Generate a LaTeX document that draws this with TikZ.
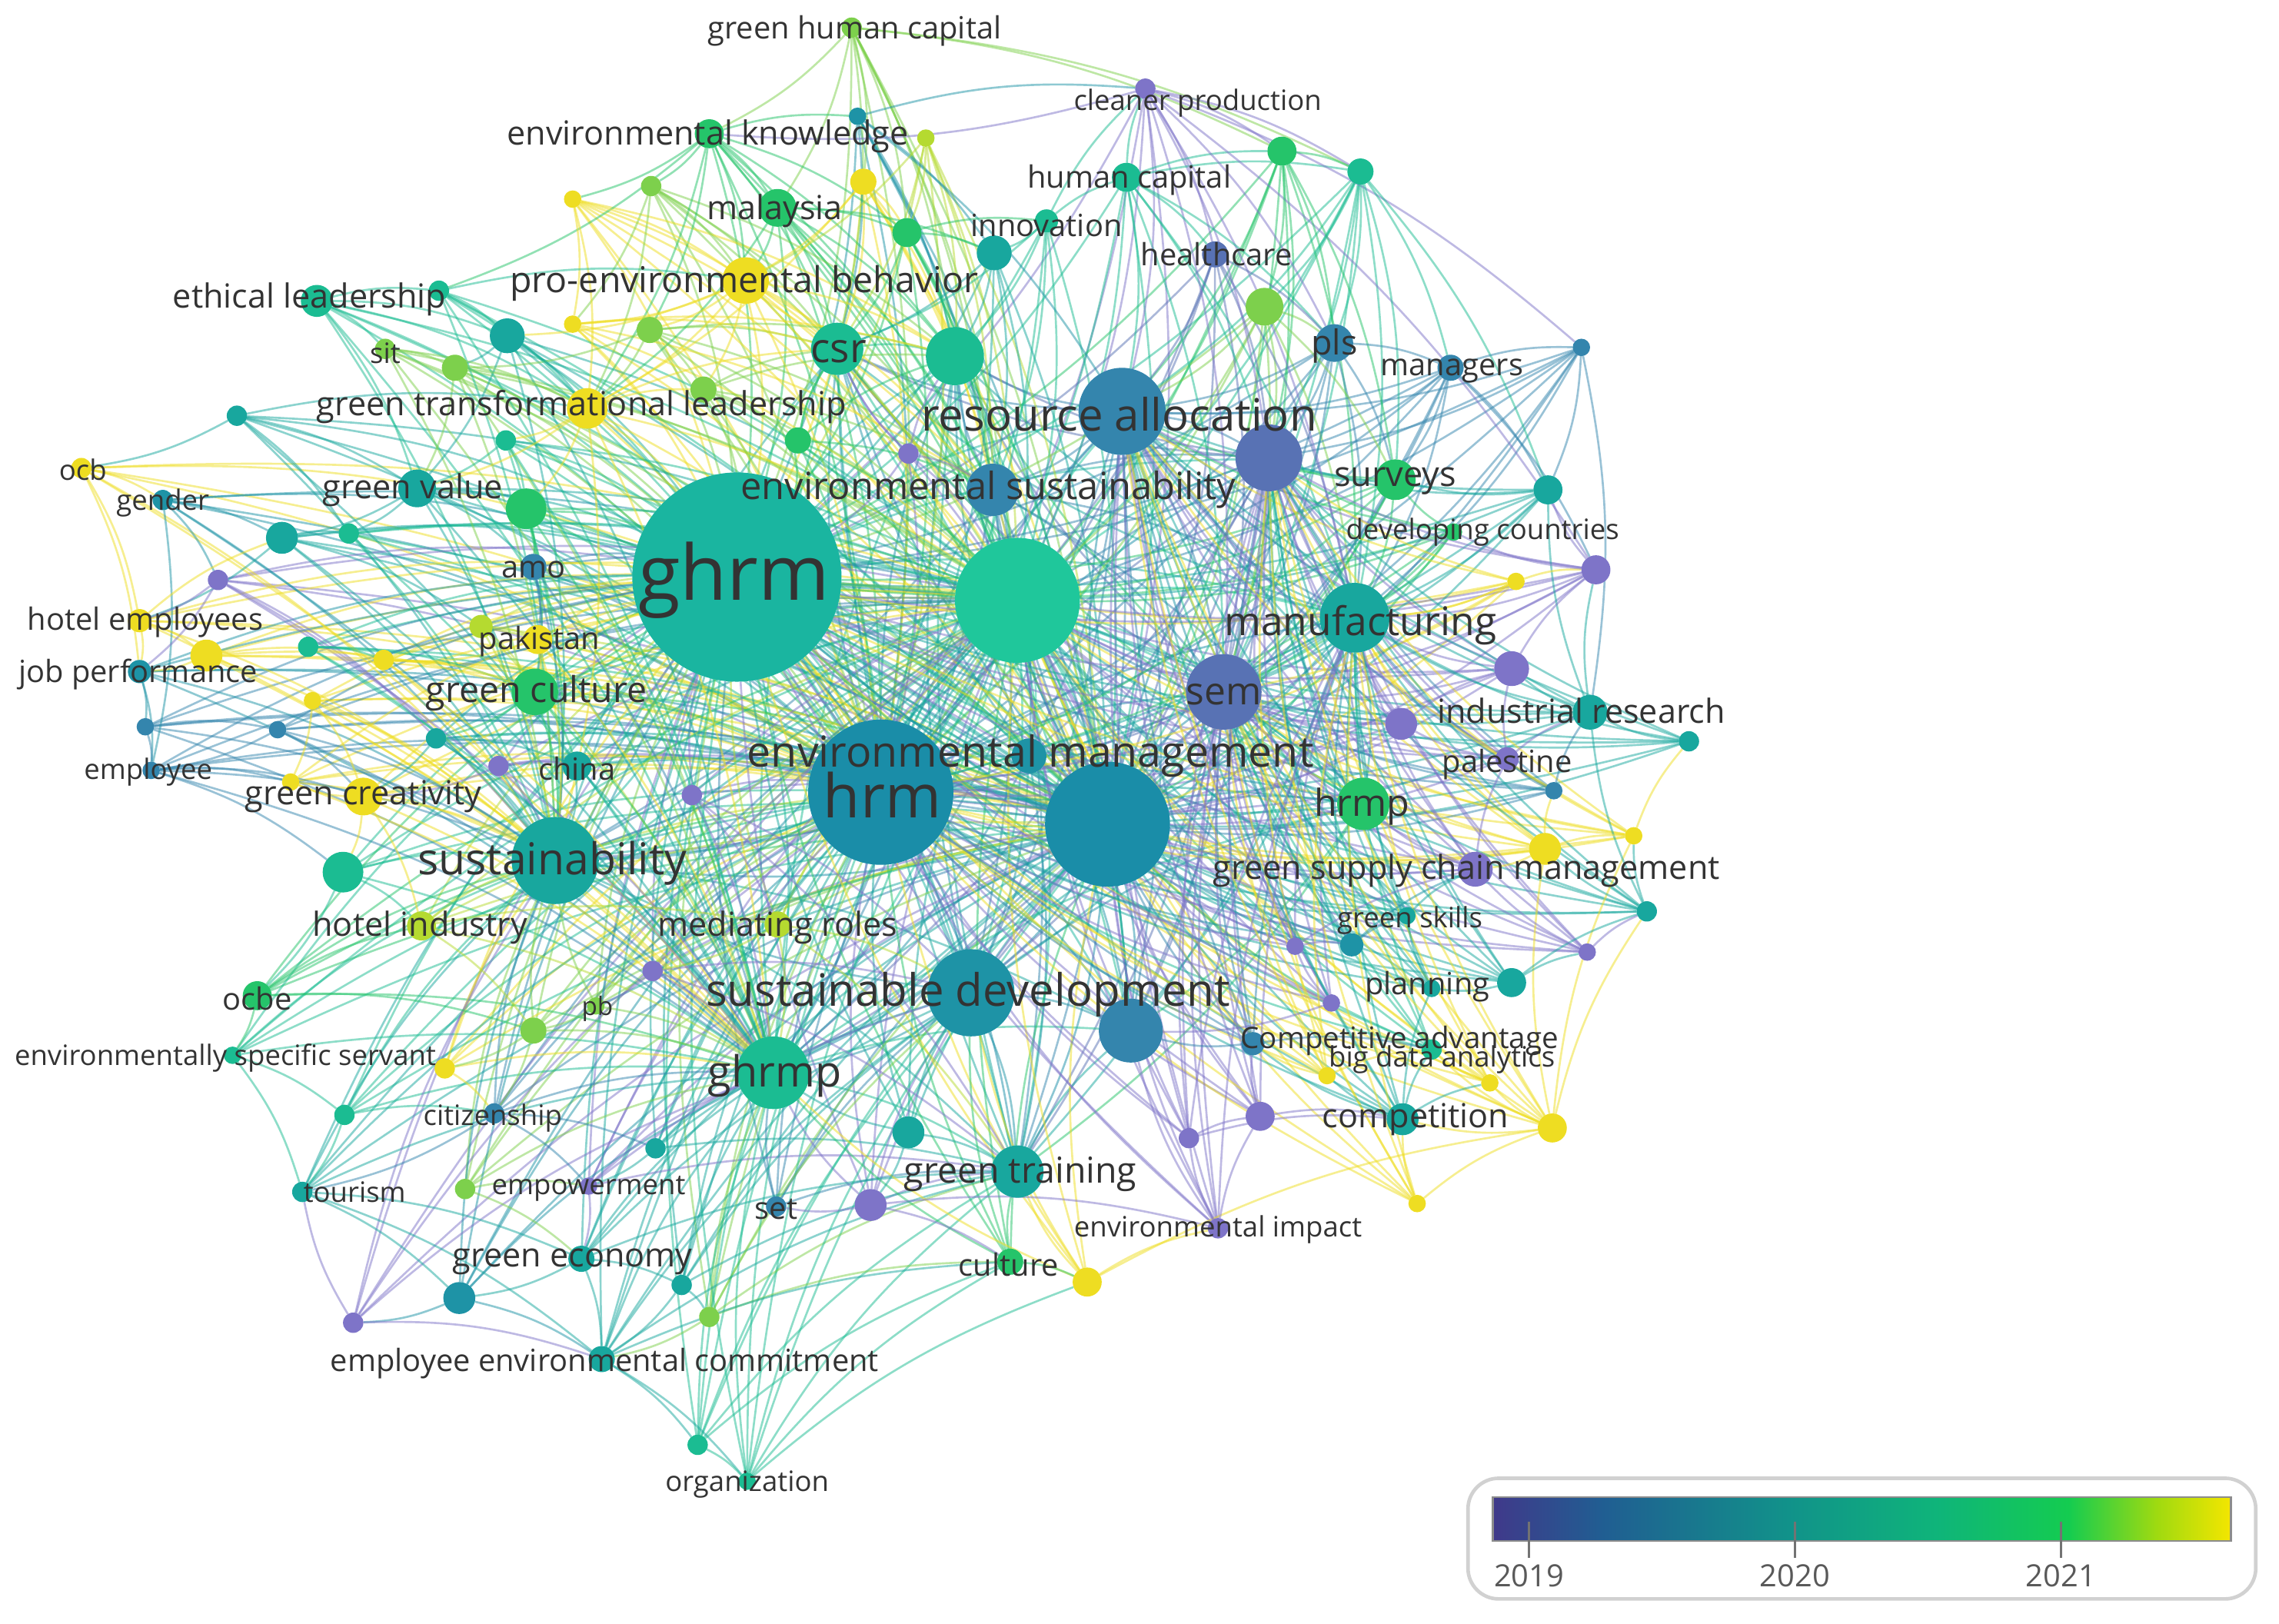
\documentclass[tikz,border=0pt]{standalone}
\usepackage{fontspec}
\setmainfont{Open Sans}
\usetikzlibrary{calc}
\pgfdeclarelayer{bg}
\pgfsetlayers{bg,main}
\definecolor{cP}{HTML}{7E74C8}
\definecolor{cPB}{HTML}{5872B4}
\definecolor{cB}{HTML}{3485AD}
\definecolor{cBT}{HTML}{1E93A6}
\definecolor{cT}{HTML}{18A79E}
\definecolor{cTG}{HTML}{1BBC92}
\definecolor{cG}{HTML}{25C46A}
\definecolor{cLG}{HTML}{7DD04C}
\definecolor{cYG}{HTML}{B5DA30}
\definecolor{cY}{HTML}{EEDD22}
\definecolor{cGH}{HTML}{1AB5A0}
\definecolor{cBA}{HTML}{1FC79B}
\definecolor{cHR}{HTML}{1A8DA8}
\definecolor{vA}{HTML}{40398A}
\definecolor{vB}{HTML}{205E92}
\definecolor{vC}{HTML}{11928A}
\definecolor{vD}{HTML}{0FB47A}
\definecolor{vE}{HTML}{14CC50}
\definecolor{vF}{HTML}{A0DA10}
\definecolor{vG}{HTML}{F4E600}
\pgfdeclarehorizontalshading{viridis}{100bp}{color(0bp)=(vA); color(25bp)=(vA); color(32.5bp)=(vB); color(45bp)=(vC); color(55bp)=(vD); color(64bp)=(vE); color(70bp)=(vF); color(75bp)=(vG); color(100bp)=(vG)}
\tikzset{
  kwc/.style={circle,inner sep=0pt,outer sep=0pt,draw=none},
  lbl/.style={inner sep=0pt,text=black!80,yshift=-0.04cm},
  lnk/.style={line width=0.8pt,draw opacity=0.5}
}
\newcommand\kw[5]{\colorlet{c-#1}{#5}\node[kwc,fill=#5,minimum size=#4*0.04cm] (#1) at (#2,#3) {};}
\newcommand\lb[5]{\node[lbl,font=\fontsize{#4}{#4}\selectfont] (l-#1) at (#2,#3) {#5};}
\begin{document}
\begin{tikzpicture}[x={(0.02cm,0)},y={(0,-0.02cm)}]
\useasboundingbox (0,0) rectangle (1568,1117);
% ---------- hub nodes
\kw{ghrm}{507}{397}{72}{cGH}
\kw{bigA}{700}{413}{43}{cBA}
\kw{hrm}{606}{545}{50}{cHR}
\kw{bigB}{762}{567}{43}{cHR}
\kw{ra}{772}{283}{30}{cB}
\kw{es}{683}{337}{18}{cB}
\kw{bp}{873}{315}{23}{cPB}
\kw{mf}{932}{425}{24}{cT}
\kw{sem}{842}{476}{26}{cPB}
\kw{em}{708}{520}{12}{cBT}
\kw{sd}{668}{683}{30}{cBT}
\kw{sus}{382}{592}{30}{cT}
\kw{ghrmp}{532}{738}{25}{cTG}
\kw{hrmp}{938}{553}{18}{cG}
\kw{gt}{700}{806}{18}{cT}
\kw{csr}{576}{240}{18}{cTG}
\kw{gB}{657}{245}{20}{cTG}
\kw{bn}{778}{709}{22}{cB}
% ---------- other nodes
\kw{ghc}{586}{19}{7}{cLG}
\kw{cp}{788}{61}{7}{cP}
\kw{t1}{590}{80}{6}{cBT}
\kw{ek}{488}{92}{10}{cG}
\kw{t2}{637}{95}{6}{cYG}
\kw{t3}{594}{125}{9}{cY}
\kw{t4}{448}{128}{7}{cLG}
\kw{my}{535}{143}{13}{cG}
\kw{t5}{394}{137}{6}{cY}
\kw{t6}{624}{160}{10}{cG}
\kw{inn}{720}{152}{8}{cTG}
\kw{t7}{684}{174}{12}{cT}
\kw{hc}{775}{122}{10}{cTG}
\kw{t8}{882}{104}{10}{cG}
\kw{t9}{936}{118}{9}{cTG}
\kw{hcare}{836}{175}{9}{cPB}
\kw{t10}{870}{211}{13}{cLG}
\kw{pls}{918}{236}{13}{cB}
\kw{mgr}{998}{253}{9}{cB}
\kw{t11}{1088}{239}{6}{cB}
\kw{peb}{513}{193}{16}{cY}
\kw{t12}{447}{227}{9}{cLG}
\kw{t13}{394}{223}{6}{cY}
\kw{el}{218}{207}{11}{cTG}
\kw{t14}{302}{200}{7}{cTG}
\kw{t15}{349}{231}{12}{cT}
\kw{sit}{265}{240}{7}{cLG}
\kw{t16}{313}{253}{9}{cLG}
\kw{gtl}{404}{281}{14}{cY}
\kw{t17}{484}{268}{9}{cLG}
\kw{t18}{549}{303}{9}{cG}
\kw{t19}{625}{312}{7}{cP}
\kw{t20}{348}{303}{7}{cTG}
\kw{t21}{163}{286}{7}{cT}
\kw{ocb}{56}{322}{7}{cY}
\kw{gen}{112}{344}{7}{cBT}
\kw{gv}{287}{336}{13}{cT}
\kw{t22}{362}{350}{14}{cG}
\kw{t23}{194}{370}{11}{cT}
\kw{t24}{240}{367}{7}{cTG}
\kw{t25}{150}{399}{7}{cP}
\kw{amo}{367}{390}{9}{cB}
\kw{t26}{331}{431}{8}{cYG}
\kw{pak}{370}{440}{10}{cY}
\kw{he}{96}{427}{8}{cY}
\kw{t27}{142}{451}{11}{cY}
\kw{jp}{96}{462}{8}{cBT}
\kw{t28}{212}{445}{7}{cTG}
\kw{t29}{264}{454}{7}{cY}
\kw{gc}{368}{476}{16}{cG}
\kw{t30}{215}{482}{6}{cY}
\kw{t31}{100}{500}{6}{cB}
\kw{t32}{191}{502}{6}{cB}
\kw{t33}{300}{508}{7}{cT}
\kw{emp}{104}{530}{6}{cB}
\kw{t34}{343}{527}{7}{cP}
\kw{china}{397}{527}{10}{cT}
\kw{gcr}{250}{548}{13}{cY}
\kw{t35}{200}{538}{6}{cY}
\kw{t36}{236}{600}{14}{cTG}
\kw{hi}{290}{637}{10}{cYG}
\kw{t37}{476}{547}{7}{cP}
\kw{mr}{535}{636}{9}{cYG}
\kw{t38}{449}{668}{7}{cP}
\kw{ocbe}{177}{685}{10}{cG}
\kw{pb}{410}{692}{6}{cLG}
\kw{t39}{367}{709}{9}{cLG}
\kw{ess}{160}{726}{6}{cTG}
\kw{t40}{306}{735}{7}{cY}
\kw{t41}{237}{767}{7}{cTG}
\kw{cit}{340}{766}{7}{cB}
\kw{t42}{451}{790}{7}{cT}
\kw{t43}{625}{779}{11}{cT}
\kw{t44}{599}{829}{11}{cP}
\kw{set}{534}{830}{7}{cB}
\kw{t45}{320}{818}{7}{cLG}
\kw{tour}{208}{820}{7}{cT}
\kw{empw}{405}{816}{6}{cP}
\kw{ge}{400}{866}{9}{cT}
\kw{t46}{316}{893}{11}{cBT}
\kw{t47}{469}{884}{7}{cT}
\kw{t48}{488}{906}{7}{cLG}
\kw{t49}{243}{910}{7}{cP}
\kw{eec}{414}{935}{9}{cT}
\kw{t50}{480}{994}{7}{cTG}
\kw{org}{514}{1019}{6}{cTG}
\kw{cul}{695}{868}{9}{cG}
\kw{t51}{748}{882}{10}{cY}
\kw{ei}{838}{845}{7}{cP}
\kw{t52}{818}{783}{7}{cP}
\kw{t53}{867}{768}{10}{cP}
\kw{t54}{975}{828}{6}{cY}
\kw{t55}{1068}{776}{10}{cY}
\kw{comp}{965}{770}{11}{cT}
\kw{t56}{913}{740}{6}{cY}
\kw{t57}{1025}{745}{6}{cY}
\kw{ca}{862}{718}{8}{cB}
\kw{bda}{985}{722}{7}{cTG}
\kw{t58}{1040}{676}{10}{cT}
\kw{plan}{985}{680}{6}{cT}
\kw{t59}{916}{690}{6}{cP}
\kw{t60}{891}{651}{6}{cP}
\kw{t61}{930}{650}{8}{cBT}
\kw{gs}{968}{630}{6}{cT}
\kw{t62}{1092}{655}{6}{cP}
\kw{t63}{1133}{627}{7}{cT}
\kw{t64}{1063}{584}{11}{cY}
\kw{t65}{1124}{575}{6}{cY}
\kw{gscm}{1015}{598}{12}{cP}
\kw{t66}{1069}{544}{6}{cB}
\kw{pal}{1037}{522}{8}{cP}
\kw{t67}{1162}{510}{7}{cT}
\kw{ir}{1094}{490}{12}{cT}
\kw{t68}{964}{498}{11}{cP}
\kw{t69}{1040}{460}{12}{cP}
\kw{t70}{1043}{400}{6}{cY}
\kw{t71}{1098}{392}{10}{cP}
\kw{dc}{1000}{366}{6}{cG}
\kw{t72}{1065}{337}{10}{cT}
\kw{sv}{960}{330}{14}{cG}
% ---------- labels
\lb{ghc}{588}{19}{12pt}{green human capital}
\lb{cp}{824}{69}{11pt}{cleaner production}
\lb{ek}{487}{92}{13pt}{environmental knowledge}
\lb{my}{533}{143}{13pt}{malaysia}
\lb{inn}{720}{153}{12pt}{innovation}
\lb{hc}{777}{122}{12pt}{human capital}
\lb{hcare}{837}{173}{12pt}{healthcare}
\lb{pls}{918}{236}{13.5pt}{pls}
\lb{mgr}{999}{253}{12pt}{managers}
\lb{peb}{512}{193}{14pt}{pro-environmental behavior}
\lb{el}{213}{204}{13pt}{ethical leadership}
\lb{sit}{265}{241}{11pt}{sit}
\lb{csr}{577}{240}{16pt}{csr}
\lb{gtl}{400}{278}{13pt}{green transformational leadership}
\lb{ra}{770}{283}{17.5pt}{resource allocation}
\lb{es}{680}{335}{14.7pt}{environmental sustainability}
\lb{sv}{960}{329}{13.6pt}{surveys}
\lb{dc}{1020}{364}{11pt}{developing countries}
\lb{ocb}{57}{321}{11pt}{ocb}
\lb{gen}{112}{344}{11pt}{gender}
\lb{gv}{284}{335}{13pt}{green value}
\lb{amo}{367}{390}{12pt}{amo}
\lb{ghrm}{505}{397}{30pt}{ghrm}
\lb{he}{100}{426}{12pt}{hotel employees}
\lb{pak}{371}{439}{12pt}{pakistan}
\lb{jp}{95}{462}{12pt}{job performance}
\lb{mf}{936}{428}{15.5pt}{manufacturing}
\lb{gc}{369}{475}{14pt}{green culture}
\lb{sem}{842}{476}{15pt}{sem}
\lb{ir}{1088}{487}{13pt}{industrial research}
\lb{emp}{102}{529}{11pt}{employee}
\lb{china}{397}{527}{12pt}{china}
\lb{em}{709}{518}{16.7pt}{environmental management}
\lb{pal}{1037}{524}{12pt}{palestine}
\lb{gcr}{250}{546}{13pt}{green creativity}
\lb{hrm}{607}{545}{23.6pt}{hrm}
\lb{hrmp}{937}{553}{14.6pt}{hrmp}
\lb{sus}{380}{592}{17.2pt}{sustainability}
\lb{gscm}{1009}{597}{13pt}{green supply chain management}
\lb{hi}{289}{636}{13pt}{hotel industry}
\lb{mr}{535}{636}{13pt}{mediating roles}
\lb{gs}{970}{631}{11pt}{green skills}
\lb{sd}{666}{682}{17.5pt}{sustainable development}
\lb{plan}{982}{677}{12pt}{planning}
\lb{ocbe}{177}{685}{12pt}{ocbe}
\lb{pb}{411}{692}{10pt}{pb}
\lb{ess}{155}{726}{11pt}{environmentally specific servant}
\lb{ca}{963}{714}{11.6pt}{Competitive advantage}
\lb{bda}{992}{727}{11pt}{big data analytics}
\lb{ghrmp}{533}{738}{16.8pt}{ghrmp}
\lb{cit}{339}{767}{11pt}{citizenship}
\lb{comp}{974}{768}{13pt}{competition}
\lb{gt}{702}{806}{14pt}{green training}
\lb{tour}{244}{818}{11pt}{tourism}
\lb{empw}{405}{816}{11pt}{empowerment}
\lb{set}{534}{830}{12pt}{set}
\lb{ei}{838}{844}{11pt}{environmental impact}
\lb{ge}{394}{866}{13pt}{green economy}
\lb{cul}{694}{868}{12pt}{culture}
\lb{eec}{416}{936}{12pt}{employee environmental commitment}
\lb{org}{514}{1019}{11pt}{organization}
% ---------- links
\begin{pgfonlayer}{bg}
\foreach \a [count=\i] in {ghrm,hrm,bigA,bigB,ra,es,bp,mf,sem,em,sd,sus,ghrmp,hrmp,gt,csr,gB,bn}{
  \foreach \b [count=\j] in {ghrm,hrm,bigA,bigB,ra,es,bp,mf,sem,em,sd,sus,ghrmp,hrmp,gt,csr,gB,bn}{
    \ifnum\j>\i \draw[lnk,draw=c-\a] (\a) to[bend left=10] (\b);\fi
  }
}
\foreach \a in {ghc,cp,t1,ek,t2,t3,t4,my,t5,t6,inn,t7,hc,t8,t9,hcare,t10,pls,mgr,t11,peb,t12,t13,el,t14,t15,sit,t16,gtl,t17,t18,t19,t20,t21,ocb,gen,gv,t22,t23,t24,t25,amo,t26,pak,he,t27,jp,t28,t29,gc,t30,t31,t32,t33,emp,t34,china,gcr,t35,t36,hi,t37,mr,t38,ocbe,pb,t39,ess,t40,t41,cit,t42,t43,t44,set,t45,tour,empw,ge,t46,t47,t48,t49,eec,t50,org,cul,t51,ei,t52,t53,t54,t55,comp,t56,t57,ca,bda,t58,plan,t59,t60,t61,gs,t62,t63,t64,t65,gscm,t66,pal,t67,ir,t68,t69,t70,t71,dc,t72,sv}{
  \foreach \b in {ghrm,hrm,bigA,bigB}{\draw[lnk,draw=c-\a] (\a) to[bend left=10] (\b);}
}
\foreach \a in {t8,t9,t10,pls,mgr,t11,hcare,hc,sv,dc,t72,t71,t70,t69,ir,t67,pal,t66,t68,t65,t64,gscm,t63,t62,gs,t61,t60,t59,plan,t58,bda,ca,t57,t56,comp,t55,t54,t53,t52,ei,cp}{
  \foreach \b in {ra,sem,mf,bp}{\draw[lnk,draw=c-\a] (\a) to[bend left=10] (\b);}
}
\foreach \a in {el,t14,t15,sit,t16,gtl,t20,t21,ocb,gen,gv,t22,t23,t24,t25,amo,t26,pak,he,t27,jp,t28,t29,gc,t30,t31,t32,t33,emp,t34,china,gcr,t35,t36,hi,ocbe,pb,t39,ess,t40,t41,cit,tour,t45,t46,t49}{
  \foreach \b in {sus,ghrmp}{\draw[lnk,draw=c-\a] (\a) to[bend left=10] (\b);}
}
\foreach \a in {ghc,t1,ek,t2,t3,t4,my,t5,t6,inn,t7,peb,t12,t13,t17,t18,t19}{
  \foreach \b in {csr,gB,es}{\draw[lnk,draw=c-\a] (\a) to[bend left=10] (\b);}
}
\foreach \a in {t42,t43,t44,set,empw,ge,t47,t48,eec,t50,org,cul,t51,t37,mr,t38}{
  \foreach \b in {sd,ghrmp,gt}{\draw[lnk,draw=c-\a] (\a) to[bend left=10] (\b);}
}
\foreach \a/\b in {ghc/ek,ghc/t3,ghc/t6,ghc/my,ghc/t8,ghc/t9,ek/t4,ek/my,ek/t12,ek/peb,ek/t5,ek/gtl,ek/t14,ek/t6,ek/t1,
  t1/cp,t1/t7,t1/ra,t2/t6,t2/peb,t3/peb,t3/t6,t3/gtl,t4/peb,t4/t13,t4/gtl,my/peb,my/t6,my/t7,my/gtl,t5/peb,t5/gtl,t5/t13,
  t6/inn,t6/t7,inn/hc,inn/t7,inn/cp,hc/cp,hc/t8,hc/hcare,hc/t9,hc/pls,cp/t8,cp/t9,cp/hcare,cp/pls,cp/t71,cp/t11,cp/ek,
  t8/t9,t8/t10,t8/pls,t8/sv,t9/pls,t9/mgr,t9/sv,t9/t10,t9/t72,hcare/pls,t10/pls,t10/sv,pls/mgr,pls/sv,
  mgr/t11,mgr/sv,mgr/t72,mgr/t71,t11/t72,t11/ir,peb/gtl,peb/t12,peb/t13,peb/t17,peb/t15,t12/gtl,t12/t16,t12/t17,
  el/t14,el/gv,el/t15,el/sit,el/gtl,t14/t15,t14/gtl,t14/peb,t15/gv,t15/t16,t15/gtl,sit/t16,sit/gtl,t16/gtl,t16/gv,
  gtl/t17,gtl/t20,gtl/gv,gtl/t22,gtl/csr,t17/t18,t18/csr,t19/csr,t20/gv,t20/t22,t21/gv,t21/ocb,t21/gtl,t21/t24,
  ocb/gen,ocb/he,ocb/jp,gen/t23,gen/emp,gen/t25,gv/t22,gv/t23,gv/t24,gv/amo,t22/amo,t22/gc,t23/t24,t23/he,t23/t26,
  t25/he,t25/jp,t25/t33,amo/pak,amo/gc,t26/pak,t26/gc,pak/gc,pak/t29,he/t27,he/jp,he/t23,t27/jp,t27/t29,t27/gc,
  jp/emp,jp/t31,t28/gc,t28/t29,t29/gc,gc/china,gc/t33,t30/t35,t30/gcr,t31/emp,t31/t32,t32/emp,t32/gcr,emp/t36,emp/gcr,
  emp/t35,t33/china,t33/gcr,t34/china,t34/gcr,gcr/t35,gcr/t36,gcr/hi,t36/hi,t36/ocbe,hi/mr,hi/t39,t37/mr,mr/t38,
  t38/pb,ocbe/ess,ocbe/t39,ocbe/hi,pb/t39,t39/t40,t39/cit,ess/t41,ess/tour,t40/cit,t41/cit,t41/tour,cit/t42,cit/tour,
  cit/empw,t42/empw,t43/t44,t44/set,t44/cul,t44/ei,t45/empw,t45/ge,tour/ge,tour/t46,tour/eec,empw/ge,ge/t46,ge/t47,
  ge/eec,t46/eec,t46/t49,t47/eec,t47/t48,t48/eec,t48/cul,t49/eec,t49/tour,eec/t50,eec/org,eec/cul,t50/org,t50/cul,
  org/cul,org/t51,cul/t51,t51/t55,t51/ei,ei/t52,ei/t53,ei/bn,t52/t53,t52/comp,t53/comp,t53/ca,t54/comp,t54/t55,
  t55/comp,t55/t57,t55/bda,t55/t64,t55/t65,t55/t63,comp/t56,comp/bda,comp/ca,comp/t57,comp/plan,t56/ca,t56/bda,
  t57/bda,ca/bda,ca/bn,t58/plan,t58/t63,t58/t62,plan/gs,t59/t60,t59/bn,t60/t61,t60/gscm,t61/gs,t61/gscm,gs/gscm,
  t62/t63,t62/gscm,t63/t64,t63/ir,t63/t65,t64/gscm,t64/t65,t64/t66,t65/t67,gscm/pal,gscm/hrmp,t66/pal,t66/ir,pal/ir,
  pal/t68,pal/t69,t67/ir,ir/t69,ir/t72,ir/t71,t68/t69,t69/t71,t70/t71,t70/mf,t71/dc,t71/t72,dc/sv,t72/sv}{
  \draw[lnk,draw=c-\a] (\a) to[bend left=10] (\b);
}
\end{pgfonlayer}
% ---------- legend
\draw[black!18,line width=1.4pt,rounded corners=12pt] (1010,1017) rectangle (1552,1100);
\shade[shading=viridis] (1027,1030) rectangle (1535,1060);
\draw[black!45,line width=0.7pt] (1027,1030) rectangle (1535,1060);
\foreach \x in {1052,1235,1418}{\draw[black!55,line width=0.9pt] (\x,1047) -- (\x,1072);}
\node[text=black!65,font=\fontsize{12pt}{12pt}\selectfont] (y19) at (1052,1084) {2019};
\node[text=black!65,font=\fontsize{12pt}{12pt}\selectfont] (y20) at (1235,1084) {2020};
\node[text=black!65,font=\fontsize{12pt}{12pt}\selectfont] (y21) at (1418,1084) {2021};
\end{tikzpicture}
\end{document}
